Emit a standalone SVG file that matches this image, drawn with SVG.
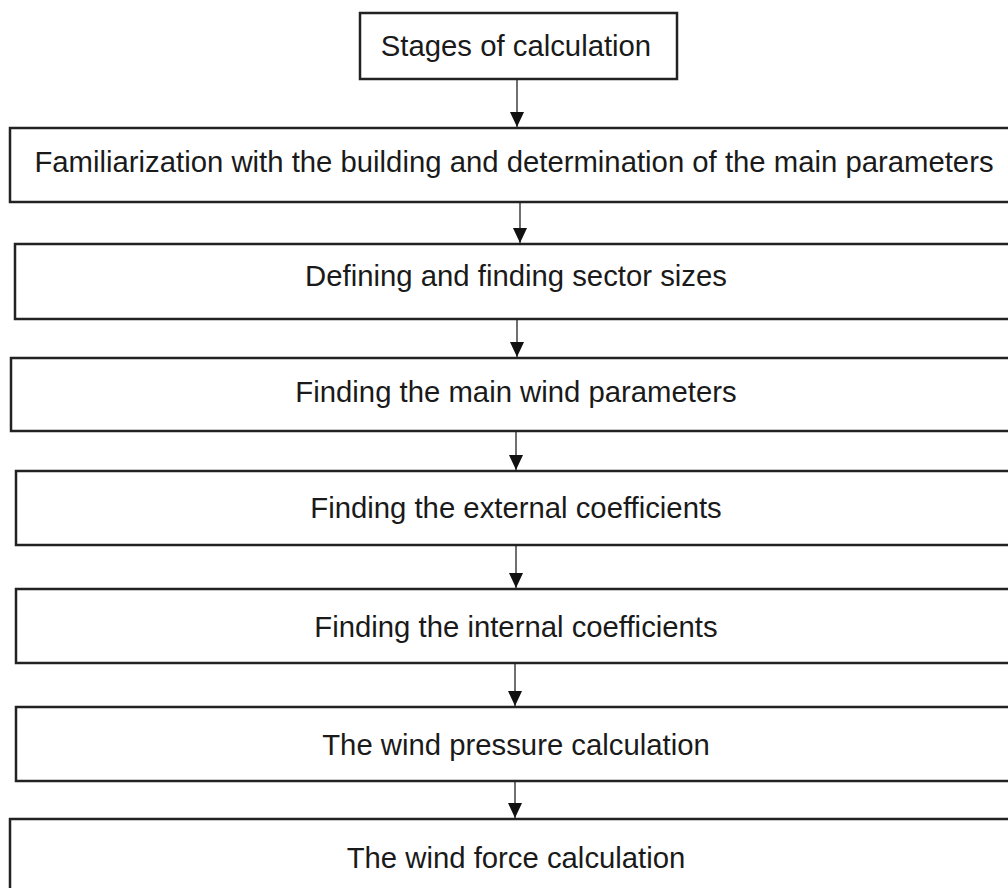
<svg xmlns="http://www.w3.org/2000/svg" width="1008" height="888" viewBox="0 0 1008 888">
  <defs>
    <style>
      .box { fill: #ffffff; stroke: #222222; stroke-width: 2.5; }
      .label { font-family: "Liberation Sans", Arial, sans-serif; font-size: 29.3px; fill: #1a1a1a; text-anchor: middle; }
      .link { stroke: #333333; stroke-width: 1.4; fill: none; }
      .head { fill: #111111; }
    </style>
  </defs>
  <rect width="1008" height="888" fill="#ffffff"/>

  <!-- vertical flow arrows between consecutive stages -->
  <g id="connectors">
    <line class="link" x1="517" y1="79" x2="517" y2="127"/>
    <path class="head" d="M510,112 L524,112 L517,127 Z"/>
    <line class="link" x1="520" y1="202" x2="520" y2="243"/>
    <path class="head" d="M513,228 L527,228 L520,243 Z"/>
    <line class="link" x1="517" y1="319" x2="517" y2="357"/>
    <path class="head" d="M510,342 L524,342 L517,357 Z"/>
    <line class="link" x1="516" y1="431" x2="516" y2="470"/>
    <path class="head" d="M509,455 L523,455 L516,470 Z"/>
    <line class="link" x1="516" y1="545" x2="516" y2="588"/>
    <path class="head" d="M509,573 L523,573 L516,588 Z"/>
    <line class="link" x1="515" y1="663" x2="515" y2="706"/>
    <path class="head" d="M508,691 L522,691 L515,706 Z"/>
    <line class="link" x1="515" y1="781" x2="515" y2="818"/>
    <path class="head" d="M508,803 L522,803 L515,818 Z"/>
  </g>

  <g id="stages">
    <rect class="box" x="360" y="13" width="317" height="66"/>
    <text class="label" x="516" y="56">Stages of calculation</text>
  </g>

  <g id="familiarization">
    <rect class="box" x="10" y="128" width="1010" height="74"/>
    <text class="label" x="514" y="172">Familiarization with the building and determination of the main parameters</text>
  </g>

  <g id="sectors">
    <rect class="box" x="15" y="244" width="1005" height="75"/>
    <text class="label" x="516" y="286">Defining and finding sector sizes</text>
  </g>

  <g id="wind-parameters">
    <rect class="box" x="11" y="358" width="1009" height="73"/>
    <text class="label" x="516" y="402">Finding the main wind parameters</text>
  </g>

  <g id="external-coefficients">
    <rect class="box" x="16" y="471" width="1004" height="74"/>
    <text class="label" x="516" y="518">Finding the external coefficients</text>
  </g>

  <g id="internal-coefficients">
    <rect class="box" x="16" y="589" width="1004" height="74"/>
    <text class="label" x="516" y="637">Finding the internal coefficients</text>
  </g>

  <g id="wind-pressure">
    <rect class="box" x="16" y="707" width="1004" height="74"/>
    <text class="label" x="516" y="755">The wind pressure calculation</text>
  </g>

  <g id="wind-force">
    <rect class="box" x="10" y="819" width="1010" height="90"/>
    <text class="label" x="516" y="868">The wind force calculation</text>
  </g>
</svg>
